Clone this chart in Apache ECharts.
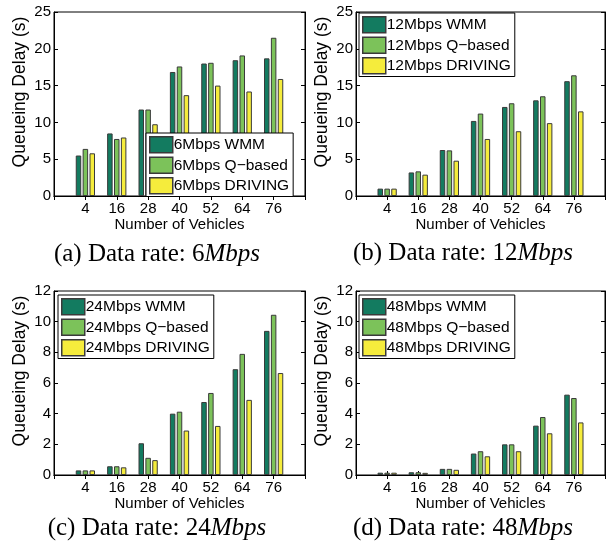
<!DOCTYPE html>
<html>
<head>
<meta charset="utf-8">
<script src="https://cdn.jsdelivr.net/npm/echarts@6/dist/echarts.min.js"></script>
<style>
html,body{margin:0;padding:0;background:#fff;}
#c{width:608px;height:548px;}
</style>
</head>
<body>
<div id="c"></div>
<script>
// ---- data ----
const vehicles = ['4', '16', '28', '40', '52', '64', '76'];

const wmm6  = [5.5, 8.5, 11.75, 16.85, 18.0, 18.45, 18.7];
const qb6   = [6.4, 7.75, 11.75, 17.6, 18.1, 19.1, 21.5];
const drv6  = [5.8, 7.95, 9.75, 13.7, 15.0, 14.2, 15.9];

const wmm12 = [1.0, 3.2, 6.25, 10.2, 12.1, 13.0, 15.6];
const qb12  = [1.0, 3.35, 6.2, 11.2, 12.6, 13.55, 16.4];
const drv12 = [1.0, 2.9, 4.8, 7.75, 8.8, 9.9, 11.5];

const wmm24 = [0.3, 0.57, 2.07, 4.0, 4.76, 6.9, 9.4];
const qb24  = [0.3, 0.57, 1.12, 4.13, 5.35, 7.9, 10.45];
const drv24 = [0.3, 0.5, 0.97, 2.9, 3.2, 4.9, 6.65];

const wmm48 = [0.15, 0.18, 0.4, 1.4, 2.0, 3.22, 5.24];
const qb48  = [0.15, 0.18, 0.4, 1.55, 2.0, 3.78, 5.02];
const drv48 = [0.15, 0.14, 0.34, 1.22, 1.55, 2.72, 3.43];

const rates = ['6', '12', '24', '48'];
const panelLetters = ['a', 'b', 'c', 'd'];
const yMax = [25, 25, 12, 12];
const yStep = [5, 5, 2, 2];
const seriesKinds = ['WMM', 'Q\u2212based', 'DRIVING'];
const xTitle = 'Number of Vehicles';
const yTitle = 'Queueing Delay (s)';

// ---- layout / style ----
const colors = ['#137b60', '#7cc25a', '#f5ec3c'];
const grids = [
  {left: 54, top: 12, width: 251, height: 184},
  {left: 356, top: 12, width: 250, height: 184},
  {left: 54, top: 291, width: 251, height: 184},
  {left: 356, top: 291, width: 250, height: 184}
];
const legendPos = [
  {left: 146, top: 133},
  {left: 359, top: 13},
  {left: 58, top: 295},
  {left: 359, top: 295}
];
const captionPos = [[157, 254], [463, 253], [157, 528], [463, 528]];
const panelData = [
  [wmm6, qb6, drv6], [wmm12, qb12, drv12], [wmm24, qb24, drv24], [wmm48, qb48, drv48]
];

const cats = [''].concat(vehicles).concat(['']);
const sans = 'Liberation Sans';
const serif = 'Liberation Serif';

const option = {
  backgroundColor: '#fff',
  animation: false,
  grid: [], xAxis: [], yAxis: [], series: [], legend: [], graphic: []
};

for (let p = 0; p < 4; p++) {
  option.grid.push(Object.assign({show: true, borderColor: '#000', borderWidth: 1, backgroundColor: '#fff', containLabel: false}, grids[p]));
  // bottom x axis
  option.xAxis.push({
    type: 'category', gridIndex: p, data: cats, boundaryGap: false, position: 'bottom',
    axisLine: {show: true, lineStyle: {color: '#000', width: 1}},
    axisTick: {show: true, inside: true, length: 4, lineStyle: {color: '#000'}},
    axisLabel: {color: '#000', fontFamily: sans, fontSize: 15, margin: 5, interval: 0},
    splitLine: {show: false},
    name: xTitle, nameLocation: 'middle', nameGap: 17,
    nameTextStyle: {color: '#000', fontFamily: sans, fontSize: 15}
  });
  // top x axis (ticks only)
  option.xAxis.push({
    type: 'category', gridIndex: p, data: cats, boundaryGap: false, position: 'top',
    axisLine: {show: true, lineStyle: {color: '#000', width: 1}},
    axisTick: {show: true, inside: true, length: 4, lineStyle: {color: '#000'}},
    axisLabel: {show: false}, splitLine: {show: false}
  });
  option.yAxis.push({
    type: 'value', gridIndex: p, min: 0, max: yMax[p], interval: yStep[p], position: 'left',
    axisLine: {show: true, lineStyle: {color: '#000', width: 1}},
    axisTick: {show: true, inside: true, length: 4, lineStyle: {color: '#000'}},
    axisLabel: {color: '#000', fontFamily: sans, fontSize: 15, margin: 3},
    splitLine: {show: false},
    name: yTitle, nameLocation: 'middle', nameGap: 25, nameRotate: 90,
    nameTextStyle: {color: '#000', fontFamily: sans, fontSize: 17.5, padding: [0, 0, 0, 24]}
  });
  option.yAxis.push({
    type: 'value', gridIndex: p, min: 0, max: yMax[p], interval: yStep[p], position: 'right',
    axisLine: {show: true, lineStyle: {color: '#000', width: 1}},
    axisTick: {show: true, inside: true, length: 4, lineStyle: {color: '#000'}},
    axisLabel: {show: false}, splitLine: {show: false}
  });
  const names = [];
  for (let s = 0; s < 3; s++) {
    const nm = rates[p] + 'Mbps ' + seriesKinds[s];
    names.push(nm);
    option.series.push({
      type: 'bar', name: nm, xAxisIndex: p * 2, yAxisIndex: p * 2,
      data: panelData[p][s].map((v, i) => [vehicles[i], v]),
      barWidth: 5.5, barGap: '25%',
      itemStyle: {color: colors[s], borderColor: '#3a3a3a', borderWidth: 1},
      emphasis: {disabled: true}
    });
  }
  option.legend.push(Object.assign({
    data: names, orient: 'vertical', icon: 'rect',
    itemWidth: 23, itemHeight: 16, itemGap: 3,
    backgroundColor: '#fff', borderColor: '#000', borderWidth: 1,
    padding: [3, 4, 2, 3],
    selectedMode: false,
    itemStyle: {borderColor: '#3a3a3a', borderWidth: 1.5},
    textStyle: {color: '#000', fontFamily: sans, fontSize: 15.5, lineHeight: 17, padding: [0, 0, 0, -4]}
  }, legendPos[p]));
  option.graphic.push({
    type: 'text', x: captionPos[p][0], y: captionPos[p][1],
    style: {
      text: '(' + panelLetters[p] + ') Data rate: ' + rates[p] + '{i|Mbps}',
      fontFamily: serif, fontSize: 25, fill: '#000',
      textAlign: 'center', textVerticalAlign: 'middle',
      rich: {i: {fontFamily: serif, fontSize: 25, fontStyle: 'italic', fill: '#000'}}
    }
  });
}

const chart = echarts.init(document.getElementById('c'), null, {renderer: 'canvas'});
chart.setOption(option);
</script>
</body>
</html>
